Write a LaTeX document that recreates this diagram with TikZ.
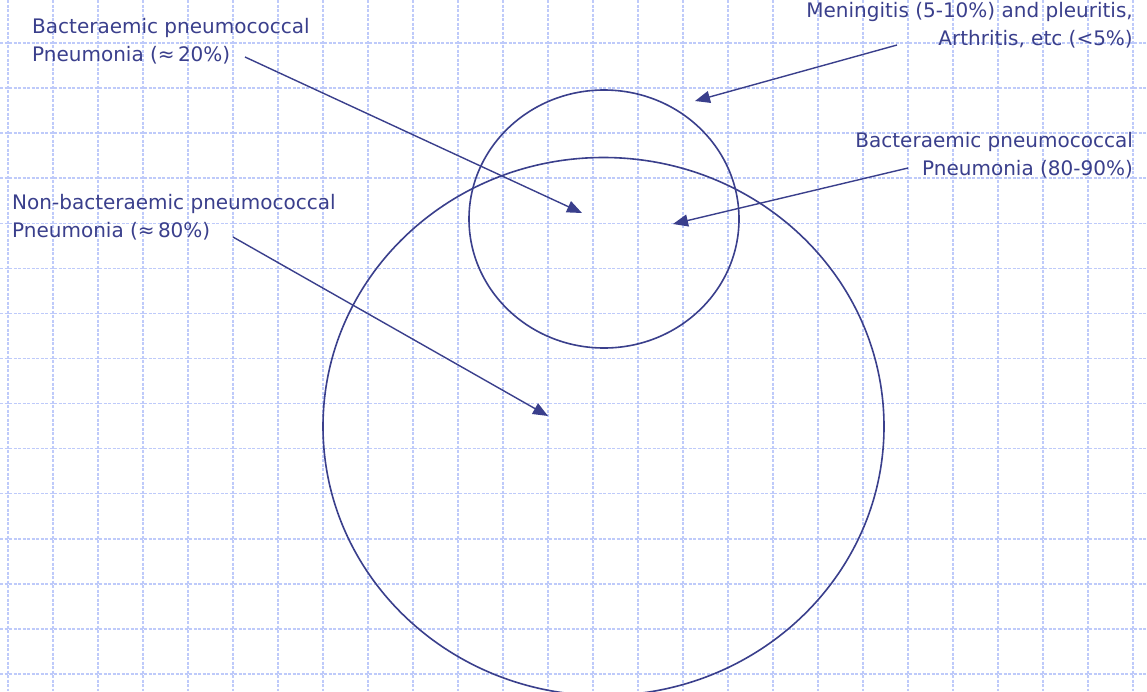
\documentclass[tikz,border=0pt]{standalone}
\usepackage{fontspec}
\setmainfont{DejaVu Sans}
\usetikzlibrary{arrows.meta}
\definecolor{ink}{RGB}{58,63,140}
\definecolor{gridblue}{RGB}{190,202,250}
\tikzset{
  gridline/.style={draw=gridblue, line width=1.5pt, dash pattern=on 3pt off 1.5pt},
  label/.style={text=ink, inner sep=0pt, font=\fontsize{20}{28}\selectfont},
  ring/.style={draw=ink, line width=1.6pt},
  pointer/.style={draw=ink, line width=1.4pt, -{Triangle[length=15pt,width=12pt]}},
}
\begin{document}
\begin{tikzpicture}[x=1pt,y=-1pt]
\useasboundingbox (0,0) rectangle (1147,691);
\fill[white] (0,0) rectangle (1147,691);
% grid
\foreach \k in {0,...,25} {
  \draw[gridline] ({8+45*\k},0) -- ({8+45*\k},691);
}
\foreach \k in {-1,...,14} {
  \draw[gridline] (0,{43+45.07*\k}) -- (1147,{43+45.07*\k});
}
% circles
\draw[ring] (603.5,426.5) ellipse [x radius=280.5, y radius=269];
\draw[ring] (604,219) ellipse [x radius=135, y radius=129];
% labels (base anchor = baseline of the last line)
\node[label, anchor=base west, align=left] (bac20) at (32,61) {Bacteraemic pneumococcal\\Pneumonia (≈\,20\%)};
\node[label, anchor=base east, align=right] (men) at (1133,45) {Meningitis (5-10\%) and pleuritis,\\Arthritis, etc (<5\%)};
\node[label, anchor=base east, align=right] (bac80) at (1133,175) {Bacteraemic pneumococcal\\Pneumonia (80-90\%)};
\node[label, anchor=base west, align=left] (nonbac) at (12,237) {Non-bacteraemic pneumococcal\\Pneumonia (≈\,80\%)};
% connector ends
\coordinate (s1) at (245,57);
\coordinate (e1) at (582,213);
\coordinate (s2) at (897,45);
\coordinate (e2) at (695,101);
\coordinate (s3) at (908,168);
\coordinate (e3) at (673,224);
\coordinate (s4) at (233,237);
\coordinate (e4) at (548,416);
\draw[pointer] (s1) -- (e1);
\draw[pointer] (s2) -- (e2);
\draw[pointer] (s3) -- (e3);
\draw[pointer] (s4) -- (e4);
\end{tikzpicture}
\end{document}
